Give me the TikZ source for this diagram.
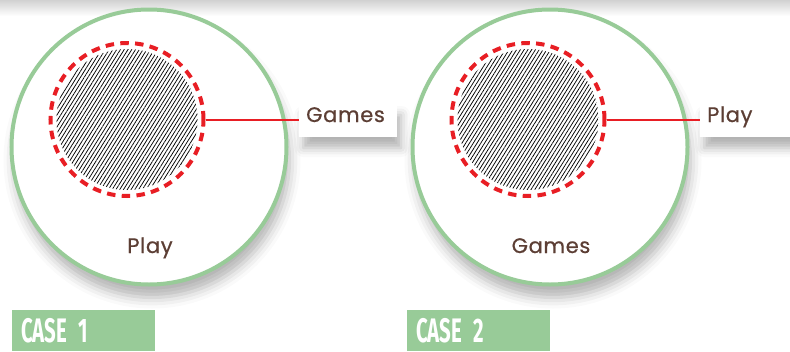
\documentclass[tikz,border=0pt]{standalone}
\usepackage{fontspec}
\setmainfont{Poppins}[FakeBold=0.6,LetterSpace=3]
\newfontfamily\casfont[FakeStretch=0.6]{Fira Sans}
\usetikzlibrary{patterns.meta,shadows.blur}
\definecolor{vert}{RGB}{152,203,152}
\definecolor{rouge}{RGB}{232,30,36}
\definecolor{brun}{RGB}{92,62,52}
\begin{document}
\begin{tikzpicture}[x=1pt,y=-1pt]
	% Styles
	\tikzstyle{grand}=[circle,draw=vert,line width=4pt,fill=white,minimum size=275pt,inner sep=0pt,blur shadow={shadow xshift=3pt,shadow yshift=-13pt,shadow blur radius=11pt,shadow opacity=30}]
	\tikzstyle{hachure}=[circle,minimum size=141pt,inner sep=0pt,pattern={Lines[angle=58,distance=3.2pt,line width=0.75pt]}]
	\tikzstyle{pointille}=[circle,draw=rouge,line width=4pt,dash pattern=on 8.5pt off 6.3pt,minimum size=153pt,inner sep=0pt]
	\tikzstyle{trait}=[-,draw=rouge,line width=2pt]
	\tikzstyle{etiquette}=[fill=white,text=brun,font=\fontsize{21}{24}\selectfont,text width=84pt,align=left,inner xsep=7pt,inner ysep=4pt,text height=14pt,text depth=11pt,anchor=west,blur shadow={shadow xshift=4pt,shadow yshift=-11pt,shadow blur radius=9pt,shadow opacity=30}]
	\tikzstyle{legende}=[text=brun,font=\fontsize{21}{24}\selectfont,anchor=base]
	\tikzstyle{cas}=[fill=vert,text=white,font=\casfont\bfseries\fontsize{34}{34}\selectfont,text width=125pt,align=left,inner xsep=9pt,minimum height=41pt,anchor=north west]
	% Dimensions
	\def\Decalage{401}
	\useasboundingbox (0,0) rectangle (790,351);
	% Fond
	\shade[top color=black!18,bottom color=white] (0,0) rectangle (790,16);
	% Cas 1
	\node[grand] (Ext1) at (149,147) {};
	\node[hachure] (Hach1) at (127,119.5) {};
	\node[pointille] (Int1) at (127,119.5) {};
	\node[etiquette] (Lab1) at (299,120.5) {Games};
	\node[legende] (Leg1) at (150,253) {Play};
	\node[cas] (Cas1) at (12,310) {CASE 1};
	% Cas 2
	\node[grand] (Ext2) at ({149+\Decalage},147) {};
	\node[hachure] (Hach2) at ({127+\Decalage},119.5) {};
	\node[pointille] (Int2) at ({127+\Decalage},119.5) {};
	\node[etiquette] (Lab2) at ({299+\Decalage},120.5) {Play};
	\node[legende] (Leg2) at ({150+\Decalage},253) {Games};
	\node[cas] (Cas2) at (407,310) {CASE 2};
	% Traits
	\draw[trait] (Int1.east)--(Int1.east -| Lab1.west);
	\draw[trait] (Int2.east)--(Int2.east -| Lab2.west);
\end{tikzpicture}
\end{document}
